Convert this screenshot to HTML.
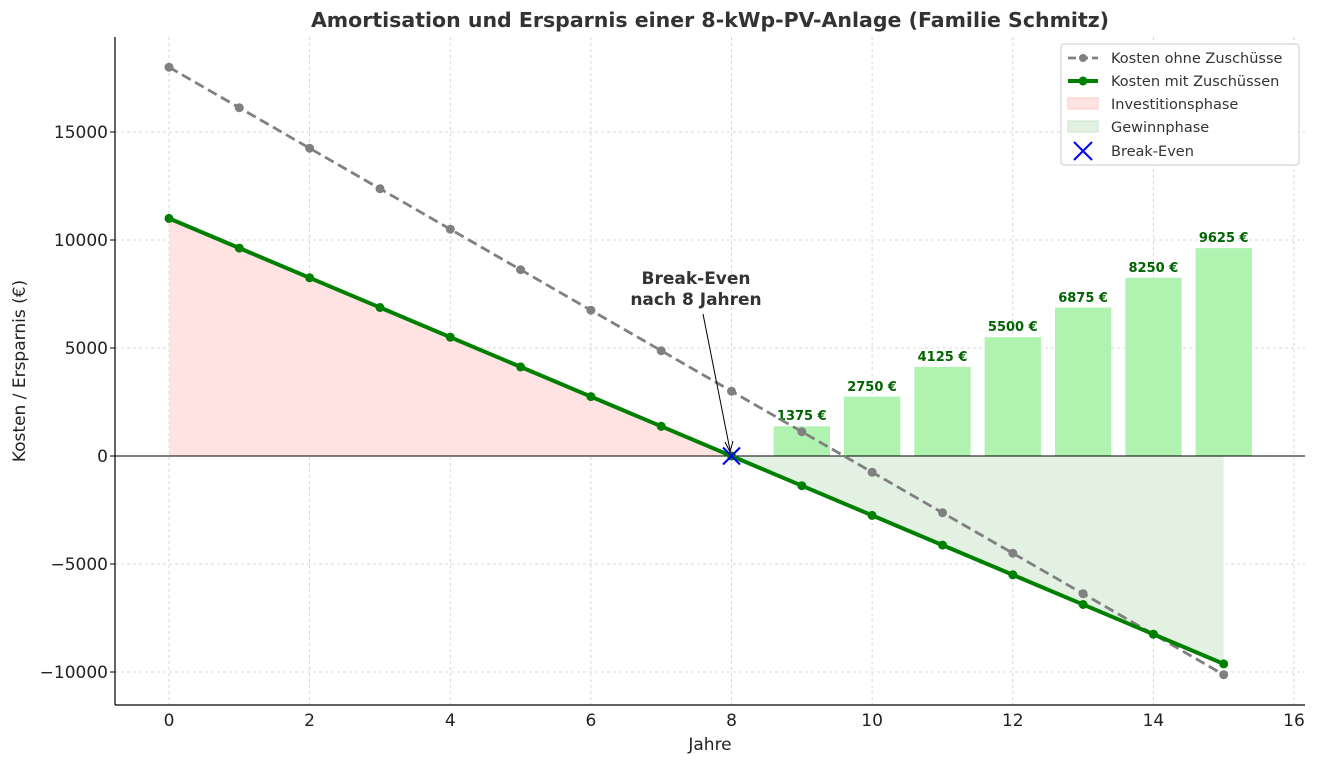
<!DOCTYPE html>
<html><head><meta charset="utf-8"><style>body{margin:0;background:#fff}svg{display:block;font-family:"DejaVu Sans","Liberation Sans",sans-serif}</style></head><body>
<svg width="1317" height="765" viewBox="0 0 1317 765" xmlns="http://www.w3.org/2000/svg">
<rect width="1317" height="765" fill="#fff"/>
<g stroke="#ccc" stroke-width="0.8" stroke-dasharray="3,3">
<line x1="169" y1="37" x2="169" y2="705"/><line x1="309.6" y1="37" x2="309.6" y2="705"/><line x1="450.3" y1="37" x2="450.3" y2="705"/><line x1="590.9" y1="37" x2="590.9" y2="705"/><line x1="731.5" y1="37" x2="731.5" y2="705"/><line x1="872.1" y1="37" x2="872.1" y2="705"/><line x1="1012.8" y1="37" x2="1012.8" y2="705"/><line x1="1153.4" y1="37" x2="1153.4" y2="705"/><line x1="1294" y1="37" x2="1294" y2="705"/>
<line x1="115" y1="132" x2="1305" y2="132"/><line x1="115" y1="240" x2="1305" y2="240"/><line x1="115" y1="348" x2="1305" y2="348"/><line x1="115" y1="564" x2="1305" y2="564"/><line x1="115" y1="672" x2="1305" y2="672"/>
</g>
<polygon points="169,218.4 731.5,456 169,456" fill="#ffe2e2"/>
<polygon points="731.5,456 1223.7,663.9 1223.7,456" fill="#e3f1e3"/>
<g fill="#b0f2b0">
<rect x="773.7" y="426.3" width="56.3" height="29.7"/><rect x="844" y="396.6" width="56.3" height="59.4"/><rect x="914.3" y="366.9" width="56.3" height="89.1"/><rect x="984.6" y="337.2" width="56.3" height="118.8"/><rect x="1055" y="307.5" width="56.3" height="148.5"/><rect x="1125.3" y="277.8" width="56.3" height="178.2"/><rect x="1195.6" y="248.1" width="56.3" height="207.9"/>
</g>
<g font-size="13" font-weight="bold" fill="#006400" text-anchor="middle">
<text x="801.8" y="420">1375 €</text><text x="872.1" y="391">2750 €</text><text x="942.5" y="361">4125 €</text><text x="1012.8" y="331">5500 €</text><text x="1083.1" y="302">6875 €</text><text x="1153.4" y="272">8250 €</text><text x="1223.7" y="242">9625 €</text>
</g>
<line x1="115" y1="456" x2="1305" y2="456" stroke="#000" stroke-width="1"/>
<polyline points="169,67.2 1223.7,674.7" stroke="#808080" stroke-width="2.8" stroke-dasharray="10,5" fill="none"/>
<g fill="#808080">
<circle cx="169" cy="67.2" r="4.5"/><circle cx="239.3" cy="107.7" r="4.5"/><circle cx="309.6" cy="148.2" r="4.5"/><circle cx="380" cy="188.7" r="4.5"/><circle cx="450.3" cy="229.2" r="4.5"/><circle cx="520.6" cy="269.7" r="4.5"/><circle cx="590.9" cy="310.2" r="4.5"/><circle cx="661.2" cy="350.7" r="4.5"/><circle cx="731.5" cy="391.2" r="4.5"/><circle cx="801.8" cy="431.7" r="4.5"/><circle cx="872.1" cy="472.2" r="4.5"/><circle cx="942.5" cy="512.7" r="4.5"/><circle cx="1012.8" cy="553.2" r="4.5"/><circle cx="1083.1" cy="593.7" r="4.5"/><circle cx="1153.4" cy="634.2" r="4.5"/><circle cx="1223.7" cy="674.7" r="4.5"/>
</g>
<polyline points="169,218.4 1223.7,663.9" stroke="#008000" stroke-width="4" fill="none"/>
<g fill="#008000">
<circle cx="169" cy="218.4" r="4.5"/><circle cx="239.3" cy="248.1" r="4.5"/><circle cx="309.6" cy="277.8" r="4.5"/><circle cx="380" cy="307.5" r="4.5"/><circle cx="450.3" cy="337.2" r="4.5"/><circle cx="520.6" cy="366.9" r="4.5"/><circle cx="590.9" cy="396.6" r="4.5"/><circle cx="661.2" cy="426.3" r="4.5"/><circle cx="731.5" cy="456" r="4.5"/><circle cx="801.8" cy="485.7" r="4.5"/><circle cx="872.1" cy="515.4" r="4.5"/><circle cx="942.5" cy="545.1" r="4.5"/><circle cx="1012.8" cy="574.8" r="4.5"/><circle cx="1083.1" cy="604.5" r="4.5"/><circle cx="1153.4" cy="634.2" r="4.5"/><circle cx="1223.7" cy="663.9" r="4.5"/>
</g>
<g stroke="#0000ff" stroke-width="2"><line x1="723" y1="447.5" x2="740" y2="464.5"/><line x1="740" y1="447.5" x2="723" y2="464.5"/></g>
<line x1="703" y1="314" x2="730" y2="450" stroke="#000" stroke-width="1"/>
<polyline points="725,442 730,452 733,441" stroke="#000" fill="none"/>
<g font-size="17" font-weight="bold" fill="#333" text-anchor="middle"><text x="696" y="284">Break-Even</text><text x="696" y="305">nach 8 Jahren</text></g>
<g stroke="#000" stroke-width="1.2" fill="none"><line x1="115" y1="37" x2="115" y2="705"/><line x1="115" y1="705" x2="1305" y2="705"/></g>
<g font-size="17" fill="#222" text-anchor="middle">
<text x="169" y="726">0</text><text x="309.6" y="726">2</text><text x="450.3" y="726">4</text><text x="590.9" y="726">6</text><text x="731.5" y="726">8</text><text x="872.1" y="726">10</text><text x="1012.8" y="726">12</text><text x="1153.4" y="726">14</text><text x="1294" y="726">16</text>
<text x="710" y="750" font-size="17">Jahre</text>
</g>
<g font-size="17" fill="#222" text-anchor="end">
<text x="108" y="138">15000</text><text x="108" y="246">10000</text><text x="108" y="354">5000</text><text x="108" y="462">0</text><text x="108" y="570">−5000</text><text x="108" y="678">−10000</text>
</g>
<g stroke="#000"><line x1="110" y1="132" x2="115" y2="132"/><line x1="110" y1="240" x2="115" y2="240"/><line x1="110" y1="348" x2="115" y2="348"/><line x1="110" y1="456" x2="115" y2="456"/><line x1="110" y1="564" x2="115" y2="564"/><line x1="110" y1="672" x2="115" y2="672"/></g>
<text transform="translate(25,371) rotate(-90)" font-size="17" fill="#222" text-anchor="middle">Kosten / Ersparnis (€)</text>
<text x="710" y="27" font-size="20.5" font-weight="bold" fill="#333" text-anchor="middle">Amortisation und Ersparnis einer 8-kWp-PV-Anlage (Familie Schmitz)</text>
<rect x="1061" y="44" width="238" height="121" rx="3" fill="#fff" fill-opacity="0.85" stroke="#ccc"/>
<line x1="1068" y1="58" x2="1098" y2="58" stroke="#808080" stroke-width="2.8" stroke-dasharray="8,4"/><circle cx="1083" cy="58" r="4" fill="#808080"/>
<line x1="1068" y1="81" x2="1098" y2="81" stroke="#008000" stroke-width="4"/><circle cx="1083" cy="81" r="4.5" fill="#008000"/>
<rect x="1068" y="98" width="30" height="11" fill="#ffe2e2" stroke="#ffc8c8"/>
<rect x="1068" y="121" width="30" height="11" fill="#e3f1e3" stroke="#c8e6c8"/>
<g stroke="#0000ff" stroke-width="2"><line x1="1074" y1="142" x2="1092" y2="160"/><line x1="1092" y1="142" x2="1074" y2="160"/></g>
<g font-size="14.5" fill="#333"><text x="1111" y="63">Kosten ohne Zuschüsse</text><text x="1111" y="86">Kosten mit Zuschüssen</text><text x="1111" y="109">Investitionsphase</text><text x="1111" y="132">Gewinnphase</text><text x="1111" y="156">Break-Even</text></g>
</svg>
</body></html>
